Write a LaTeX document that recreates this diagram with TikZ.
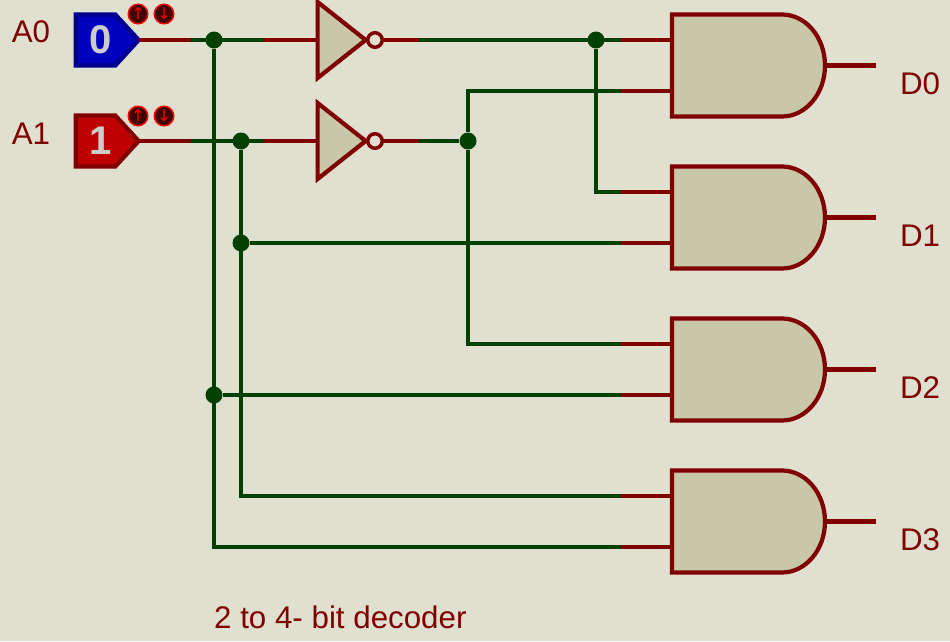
\documentclass[tikz,border=0pt]{standalone}
\usepackage{fontspec}
\setmainfont{Liberation Sans}
\newfontfamily\arrowfont{DejaVu Sans}
\usetikzlibrary{calc}
\usetikzlibrary{shapes.geometric}
\usetikzlibrary{shapes.symbols}
\definecolor{sheet}{HTML}{E0E0D0}
\definecolor{body}{HTML}{C8C8A8}
\definecolor{pinred}{HTML}{800000}
\definecolor{wiregreen}{HTML}{004000}
\definecolor{btnred}{HTML}{FF0000}
\definecolor{btndark}{HTML}{400000}

\begin{document}
\begin{tikzpicture}[x=1pt,y=-1pt]
      \tikzset{
        andg/.style={rectangle, minimum height=102pt, minimum width=153pt, inner sep=0pt, outer sep=0pt, node distance=152pt},
        gatebody/.style={draw=pinred, fill=body, line width=4.2pt, insert path={(#1.north west)--++(110,0) arc[start angle=90, end angle=-90, x radius=43pt, y radius=51pt]--(#1.south west)--cycle}},
        invg/.style={draw=pinred, isosceles triangle, isosceles triangle stretches, shape border rotate=0, fill=body, line width=4.2pt, minimum width=76pt, minimum height=48pt, inner sep=0pt, outer sep=0pt, node distance=101pt},
        bubble/.style={draw=pinred, circle, line width=3.5pt, fill=sheet, minimum size=14.5pt, inner sep=0pt, outer sep=0pt, node distance=39pt},
        source/.style={signal, signal to=east, signal from=nowhere, signal pointer angle=95, line width=4.2pt, minimum width=63pt, minimum height=51pt, inner sep=0pt, outer sep=0pt, text=black!20, font=\fontsize{40}{40}\selectfont\bfseries, node distance=101pt},
        btn/.style={draw=btnred, circle, fill=btndark, line width=1.5pt, minimum size=19.5pt, inner sep=0pt, text=btnred, font=\fontsize{16}{16}\arrowfont},
        dot/.style={circle, fill=wiregreen, minimum size=17pt, inner sep=0pt},
        lbl/.style={text=pinred, font=\fontsize{31.3}{31.3}\selectfont, inner sep=0pt},
        wire/.style={draw=wiregreen, line width=4.2pt},
        pin/.style={draw=pinred, line width=4.2pt},
      }
      \fill [sheet] (0,0) rectangle (950,641);
      \useasboundingbox (0,0) rectangle (950,641);

      \node [source, draw=blue!55!black, fill=blue!75!black] (a0) at (95.5,40) {\hspace*{10pt}0};
      \node [source, draw=pinred, fill=red!75!black, below of=a0] (a1) {\hspace*{10pt}1};
      \node [btn] (up0) at (138,14) {↑};
      \node [btn] (dn0) at (164,14) {↓};
      \node [btn] (up1) at (138,116) {↑};
      \node [btn] (dn1) at (164,116) {↓};
      \node [lbl] (la0) at (31,32) {A0};
      \node [lbl] (la1) at (31,134) {A1};

      \node [invg] (inv0) at (336,40) {};
      \node [invg, below of=inv0] (inv1) {};
      \node [bubble, right of=inv0] (bub0) {};
      \node [bubble, right of=inv1] (bub1) {};

      \node [andg] (g0) at (748.5,65.5) {};
      \node [andg, below of=g0] (g1) {};
      \node [andg, below of=g1] (g2) {};
      \node [andg, below of=g2] (g3) {};
      \path [gatebody=g0];
      \path [gatebody=g1];
      \path [gatebody=g2];
      \path [gatebody=g3];
      \node [lbl] (d0) at (920,84) {D0};
      \node [lbl] (d1) at (920,236) {D1};
      \node [lbl] (d2) at (920,388) {D2};
      \node [lbl] (d3) at (920,540) {D3};
      \node [lbl, anchor=west] (title) at (214,617) {2 to 4- bit decoder};

      \coordinate (s0) at (191,40);
      \coordinate (s1) at (191,141);
      \coordinate (i0) at (264,40);
      \coordinate (i1) at (264,141);
      \coordinate (q0) at (419,40);
      \coordinate (q1) at (419,141);
      \coordinate (g0in1) at ($(g0.west)+(0,-25.5)$);
      \coordinate (g0in2) at ($(g0.west)+(0,25.5)$);
      \coordinate (g1in1) at ($(g1.west)+(0,-25.5)$);
      \coordinate (g1in2) at ($(g1.west)+(0,25.5)$);
      \coordinate (g2in1) at ($(g2.west)+(0,-25.5)$);
      \coordinate (g2in2) at ($(g2.west)+(0,25.5)$);
      \coordinate (g3in1) at ($(g3.west)+(0,-25.5)$);
      \coordinate (g3in2) at ($(g3.west)+(0,25.5)$);
      \coordinate (g0a) at ($(g0in1)+(-51,0)$);
      \coordinate (g0b) at ($(g0in2)+(-51,0)$);
      \coordinate (g1a) at ($(g1in1)+(-51,0)$);
      \coordinate (g1b) at ($(g1in2)+(-51,0)$);
      \coordinate (g2a) at ($(g2in1)+(-51,0)$);
      \coordinate (g2b) at ($(g2in2)+(-51,0)$);
      \coordinate (g3a) at ($(g3in1)+(-51,0)$);
      \coordinate (g3b) at ($(g3in2)+(-51,0)$);
      \coordinate (o0) at ($(g0.east)+(51,0)$);
      \coordinate (o1) at ($(g1.east)+(51,0)$);
      \coordinate (o2) at ($(g2.east)+(51,0)$);
      \coordinate (o3) at ($(g3.east)+(51,0)$);

      \node [dot] (j0) at (214,40) {};
      \node [dot] (j1) at (241,141) {};
      \node [dot] (j2) at (468,141) {};
      \node [dot] (j3) at (596,40) {};
      \node [dot] (j4) at (j1 |- g1b) {};
      \node [dot] (j5) at (j0 |- g2b) {};

      \path [pin] (a0.east)--(s0);
      \path [pin] (a1.east)--(s1);
      \path [pin] (i0)--(inv0.lower side);
      \path [pin] (i1)--(inv1.lower side);
      \path [pin] (bub0.east)--(q0);
      \path [pin] (bub1.east)--(q1);
      \path [pin] (g0a)--(g0in1);
      \path [pin] (g0b)--(g0in2);
      \path [pin] (g1a)--(g1in1);
      \path [pin] (g1b)--(g1in2);
      \path [pin] (g2a)--(g2in1);
      \path [pin] (g2b)--(g2in2);
      \path [pin] (g3a)--(g3in1);
      \path [pin] (g3b)--(g3in2);
      \path [pin] (g0.east)--(o0);
      \path [pin] (g1.east)--(o1);
      \path [pin] (g2.east)--(o2);
      \path [pin] (g3.east)--(o3);

      \path [wire] (s0)--(i0);
      \path [wire] (s1)--(i1);
      \path [wire] (q0)--(g0a);
      \path [wire] (q1)--(j2);
      \path [wire] (j0)|-(g3b);
      \path [wire] (j1)|-(g3a);
      \path [wire] (j4)--(g1b);
      \path [wire] (j5)--(g2b);
      \path [wire] (j2)|-(g0b);
      \path [wire] (j2)|-(g2a);
      \path [wire] (j3)|-(g1a);
      \end{tikzpicture}
\end{document}
